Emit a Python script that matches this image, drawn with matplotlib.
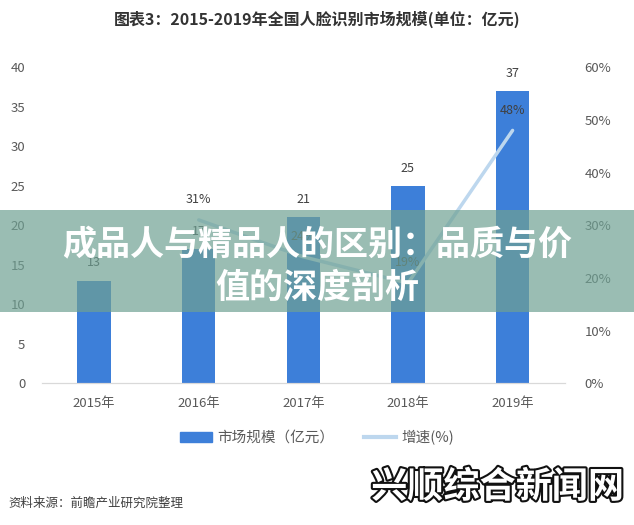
import matplotlib.pyplot as plt
import matplotlib.patheffects as pe
from matplotlib.patches import Rectangle
from matplotlib.lines import Line2D
from matplotlib.ticker import FuncFormatter

plt.rcParams['font.family'] = ['Noto Sans CJK SC', 'DejaVu Sans']

years = ['2015年', '2016年', '2017年', '2018年', '2019年']
market = [13, 17, 21, 25, 37]
growth_years = [1, 2, 3, 4]
growth = [31, 24, 19, 48]

bar_color = '#3d7fd9'
line_color = '#bdd7ee'
txt = '#404040'

fig = plt.figure(figsize=(6.34, 5.25), dpi=100)
ax = fig.add_axes([0.066, 0.270, 0.825, 0.602])
ax2 = ax.twinx()

x = list(range(len(years)))
ax.bar(x, market, width=0.32, color=bar_color, zorder=2)
for xi, v in zip(x, market):
    ax.annotate(str(v), (xi, v), xytext=(0, 8), textcoords='offset points',
                ha='center', va='bottom', fontsize=9, color=txt)

ax2.plot(growth_years, growth, color=line_color, lw=2.5, solid_capstyle='round')
for xi, v in zip(growth_years, growth):
    ax2.annotate(f'{v}%', (xi, v), xytext=(0, 10), textcoords='offset points',
                 ha='center', va='bottom', fontsize=9, color=txt)

ax.set_xlim(-0.5, 4.5)
ax.set_ylim(0, 40)
ax.set_yticks(range(0, 41, 5))
ax2.set_ylim(0, 60)
ax2.set_yticks(range(0, 61, 10))
ax2.yaxis.set_major_formatter(FuncFormatter(lambda v, p: f'{int(v)}%'))
ax.set_xticks(x)
ax.set_xticklabels(years)

for a in (ax, ax2):
    for s in ('top', 'left', 'right'):
        a.spines[s].set_visible(False)
    a.spines['bottom'].set_color('#d9d9d9')
    a.tick_params(length=0, labelsize=9.5, colors='#595959')
ax.tick_params(axis='y', pad=12)
ax2.tick_params(axis='y', pad=14)
ax.tick_params(axis='x', pad=10)

handles = [Rectangle((0, 0), 1, 1, color=bar_color),
           Line2D([0], [0], color=line_color, lw=3)]
fig.legend(handles, ['市场规模（亿元）', '增速(%)'], loc='center',
           bbox_to_anchor=(0.5, 0.167), ncol=2, frameon=False,
           fontsize=10.5, labelcolor='#595959', handlelength=2.2,
           handleheight=0.7, handletextpad=0.4, columnspacing=2.0)

fig.text(0.5, 0.963, '图表3：2015-2019年全国人脸识别市场规模(单位：亿元)',
         ha='center', va='center', fontsize=11.5, fontweight='bold', color='#333333')
fig.text(0.013, 0.042, '资料来源：前瞻产业研究院整理', ha='left', va='center',
         fontsize=9, color=txt)

# overlay banner
fig.add_artist(Rectangle((0, 0.406), 1, 0.194, transform=fig.transFigure,
                         facecolor='#6fa193', alpha=0.7, edgecolor='none', zorder=5))
fig.text(0.5, 0.533, '成品人与精品人的区别：品质与价', ha='center', va='center',
         fontsize=24.5, fontweight='bold', color='white', zorder=6)
fig.text(0.5, 0.453, '值的深度剖析', ha='center', va='center',
         fontsize=24.5, fontweight='bold', color='white', zorder=6)

wm = fig.text(0.785, 0.072, '兴顺综合新闻网', ha='center', va='center',
              fontsize=26, fontweight='bold', color='white', zorder=6)
wm.set_path_effects([pe.withStroke(linewidth=3, foreground='#111111')])

fig.savefig('out.png', dpi=100)
